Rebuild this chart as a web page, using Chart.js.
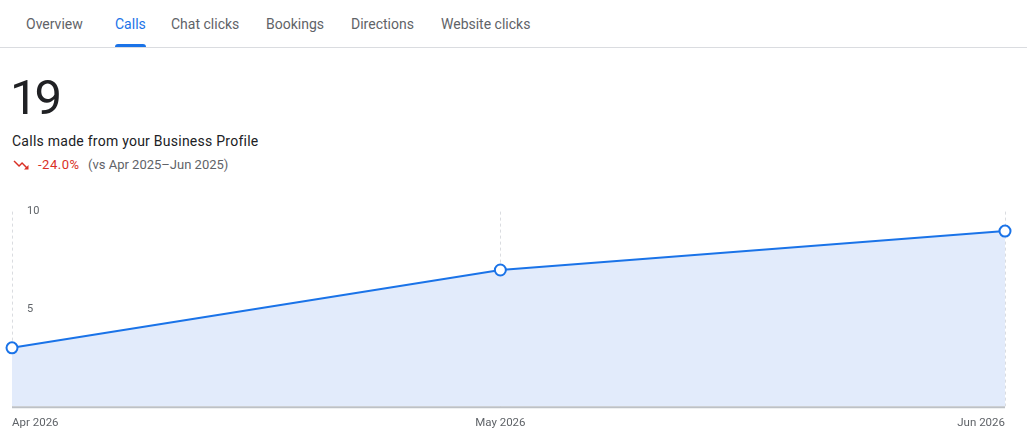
<!DOCTYPE html>
<html>
<head>
<meta charset="utf-8">
<script src="https://cdn.jsdelivr.net/npm/chart.js@4"></script>
<style>
  body { margin: 0; width: 1027px; height: 445px; overflow: hidden; background: #fff; font-family: Roboto, Arial, sans-serif; position: relative; }
  .tabs { position: absolute; left: 0; top: 0; width: 1027px; height: 47px; border-bottom: 1px solid #dadce0; }
  .tab { position: absolute; top: 15px; font-size: 14px; color: #5f6368; line-height: 18px; }
  .tab.active { color: #1a73e8; }
  .tab.active::after { content: ''; position: absolute; left: 0; right: 0; top: 29px; height: 3px; background: #1a73e8; border-radius: 3px 3px 0 0; }
  .total { position: absolute; left: 10px; top: 68px; font-size: 49px; letter-spacing: -3px; color: #202124; line-height: 60px; }
  .desc { position: absolute; left: 12px; top: 132px; font-size: 14px; letter-spacing: 0.25px; color: #202124; line-height: 18px; }
  .trend { position: absolute; left: 12px; top: 156px; font-size: 13px; line-height: 18px; color: #5f6368; white-space: nowrap; }
  .trend svg { position: absolute; left: 0; top: 0; }
  .trend .pct { position: absolute; left: 26px; color: #d93025; letter-spacing: 0.5px; }
  .trend .vs { position: absolute; left: 76px; }
  #wrap { position: absolute; left: 0; top: 190px; width: 1027px; height: 255px; }
</style>
</head>
<body>
<div class="tabs">
  <span class="tab" style="left:26px">Overview</span>
  <span class="tab active" style="left:115px">Calls</span>
  <span class="tab" style="left:171px">Chat clicks</span>
  <span class="tab" style="left:266px">Bookings</span>
  <span class="tab" style="left:351px">Directions</span>
  <span class="tab" style="left:441px">Website clicks</span>
</div>
<div class="total">19</div>
<div class="desc">Calls made from your Business Profile</div>
<div class="trend">
  <svg width="18" height="18" viewBox="0 0 24 24"><path fill="#d93025" d="M16 18l2.29-2.29-4.88-4.88-4 4L2 7.41 3.41 6l6 6 4-4 6.3 6.29L22 12v6z"/></svg>
  <span class="pct">-24.0%</span>
  <span class="vs">(vs Apr 2025–Jun 2025)</span>
</div>
<div id="wrap"><canvas id="chart"></canvas></div>
<script>
const months = ['2026-04-01', '2026-05-01', '2026-06-01'];
const monthLabels = ['Apr 2026', 'May 2026', 'Jun 2026'];
const calls = [3, 7, 9];
const yTicks = [5, 10];

// Tage seit dem ersten Monat, damit der Abstand wie eine Zeitachse wirkt
const dayMs = 24 * 3600 * 1000;
const start = Date.parse(months[0]);
const days = months.map(m => Math.round((Date.parse(m) - start) / dayMs));

new Chart(document.getElementById('chart'), {
  type: 'line',
  data: {
    datasets: [{
      data: days.map((d, i) => ({ x: d, y: calls[i] })),
      borderColor: '#1a73e8',
      borderWidth: 2,
      backgroundColor: '#e2ebfb',
      fill: 'origin',
      tension: 0,
      pointRadius: 5.5,
      pointBorderWidth: 2,
      pointBackgroundColor: '#fff',
      pointBorderColor: '#1a73e8',
      clip: false
    }]
  },
  options: {
    responsive: true,
    maintainAspectRatio: false,
    animation: false,
    layout: { padding: { top: 19, left: 12, right: 22, bottom: 5 } },
    plugins: { legend: { display: false }, tooltip: { enabled: false } },
    scales: {
      x: {
        type: 'linear',
        min: days[0],
        max: days[days.length - 1],
        afterBuildTicks: axis => { axis.ticks = days.map(v => ({ value: v })); },
        grid: { display: false, drawTicks: false },
        border: { display: false },
        ticks: {
          align: 'inner',
          maxRotation: 0,
          padding: 10,
          color: '#5f6368',
          font: { family: 'Roboto', size: 11.5 },
          callback: (v) => monthLabels[days.indexOf(v)]
        }
      },
      y: {
        min: 0,
        max: 10,
        afterBuildTicks: axis => { axis.ticks = yTicks.map(v => ({ value: v })); },
        afterFit: axis => { axis.width = 0; },
        grid: { display: false, drawTicks: false },
        border: { display: false },
        ticks: {
          mirror: true,
          padding: 15,
          color: '#5f6368',
          font: { family: 'Roboto', size: 11 }
        }
      }
    }
  },
  plugins: [{
    // gestrichelte senkrechte Linien an den Monaten, Achse unten durchgezogen
    id: 'dashedGrid',
    beforeDatasetsDraw(chart) {
      const { ctx, chartArea, scales } = chart;
      ctx.save();
      ctx.strokeStyle = '#dadce0';
      ctx.lineWidth = 1;
      ctx.setLineDash([3, 3]);
      days.forEach(d => {
        const x = Math.round(scales.x.getPixelForValue(d)) + 0.5;
        ctx.beginPath();
        ctx.moveTo(x, chartArea.top);
        ctx.lineTo(x, chartArea.bottom);
        ctx.stroke();
      });
      ctx.restore();
    },
    afterDatasetsDraw(chart) {
      const { ctx, chartArea } = chart;
      ctx.save();
      ctx.strokeStyle = '#bdc1c6';
      ctx.lineWidth = 2;
      ctx.beginPath();
      ctx.moveTo(chartArea.left, chartArea.bottom + 1);
      ctx.lineTo(chartArea.right, chartArea.bottom + 1);
      ctx.stroke();
      ctx.restore();
    }
  }]
});
</script>
</body>
</html>
